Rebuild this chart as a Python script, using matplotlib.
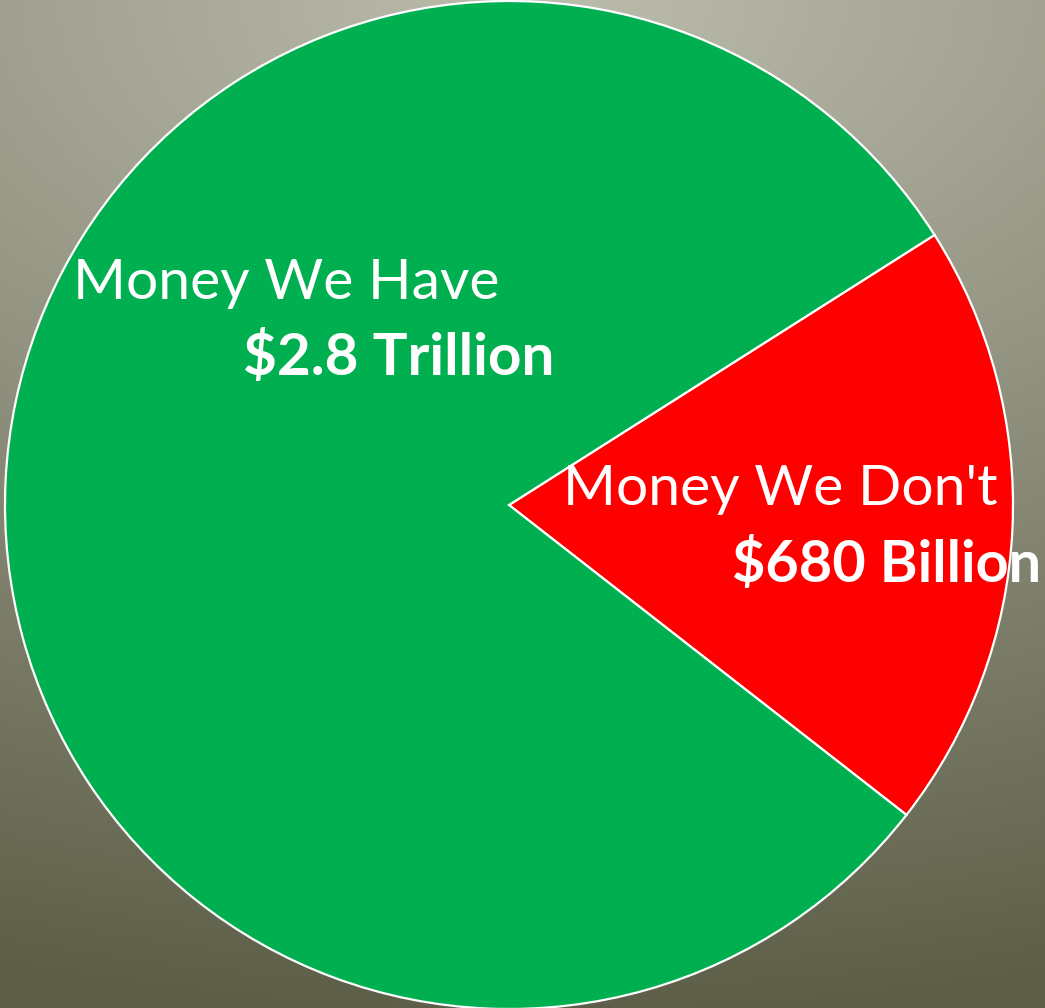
import numpy as np
import matplotlib.pyplot as plt

labels = ["Money We Don't", "Money We Have"]
amounts = [680, 2800]          # billions of dollars
amount_text = ["$680 Billion", "$2.8 Trillion"]
colors = ["#ff0000", "#00b050"]

W, H = 1045, 1008
fig = plt.figure(figsize=(W / 100, H / 100), dpi=100)
ax = fig.add_axes([0, 0, 1, 1])

# background: light at the top centre, fading to dark olive at the bottom
yy, xx = np.mgrid[0:H, 0:W]
d = np.sqrt(((xx - W * 0.52) / W) ** 2 * 0.35 + (yy / H) ** 2)
d = np.clip(d / 1.02, 0, 1)
top = np.array([0xbd, 0xbd, 0xae]) / 255
bottom = np.array([0x5b, 0x5d, 0x46]) / 255
bg = top + (bottom - top) * d[..., None]
ax.imshow(bg, extent=[0, W, 0, H], origin='upper', zorder=0)

ax.pie(amounts, colors=colors, startangle=32.4, counterclock=False,
       center=(509, H - 505), radius=504,
       wedgeprops=dict(edgecolor='white', linewidth=1.6), frame=True)
ax.set_xlim(0, W)
ax.set_ylim(0, H)
ax.set_aspect('equal')
ax.axis('off')

font = ['Lato', 'DejaVu Sans']
# green slice label
ax.text(73, H - 299, labels[1], color='white', fontsize=41, family=font,
        ha='left', va='baseline')
ax.text(554, H - 375, amount_text[1], color='white', fontsize=42,
        fontweight='bold', family=font, ha='right', va='baseline')
# red slice label
ax.text(563, H - 505, labels[0], color='white', fontsize=41, family=font,
        ha='left', va='baseline')
ax.text(1041, H - 582, amount_text[0], color='white', fontsize=41.5,
        fontweight='bold', family=font, ha='right', va='baseline')

fig.savefig('out.png', dpi=100)
